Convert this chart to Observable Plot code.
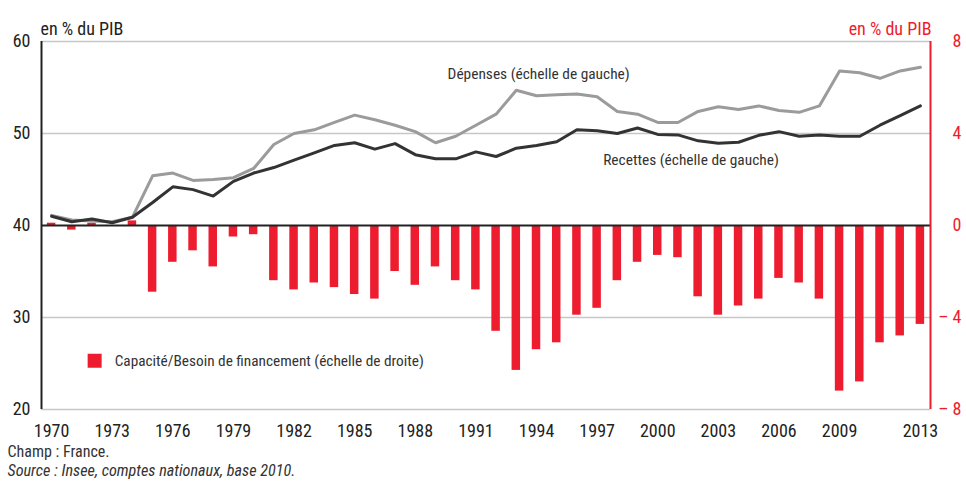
<!DOCTYPE html>
<html><head><meta charset="utf-8">
<script src="https://cdn.jsdelivr.net/npm/d3@7"></script>
<script src="https://cdn.jsdelivr.net/npm/@observablehq/plot@0.6"></script>
<style>body{margin:0;background:#fff}</style>
</head><body><div id="chart"></div>
<script>
const years = [1970,1971,1972,1973,1974,1975,1976,1977,1978,1979,
  1980,1981,1982,1983,1984,1985,1986,1987,1988,1989,
  1990,1991,1992,1993,1994,1995,1996,1997,1998,1999,
  2000,2001,2002,2003,2004,2005,2006,2007,2008,2009,
  2010,2011,2012,2013];
const depenses = [41.1,40.6,40.5,40.4,40.9,45.4,45.7,44.9,45.0,45.2,
  46.2,48.8,50.0,50.4,51.2,52.0,51.5,50.9,50.2,49.0,
  49.7,50.9,52.1,54.7,54.1,54.2,54.3,54.0,52.4,52.1,
  51.2,51.2,52.4,52.9,52.6,53.0,52.5,52.3,53.0,56.8,
  56.6,56.0,56.8,57.2];
const recettes = [41.0,40.4,40.7,40.3,40.9,42.5,44.2,43.9,43.2,44.8,
  45.7,46.3,47.1,47.9,48.7,49.0,48.3,48.9,47.7,47.25,
  47.25,48.0,47.5,48.4,48.7,49.1,50.4,50.3,50.0,50.6,
  49.9,49.85,49.2,48.95,49.05,49.8,50.2,49.7,49.85,49.7,
  49.7,50.9,51.95,53.0];
const capacite = [0.1,-0.2,0.1,0.0,0.2,-2.9,-1.6,-1.1,-1.8,-0.5,
  -0.4,-2.4,-2.8,-2.5,-2.7,-3.0,-3.2,-2.0,-2.6,-1.8,
  -2.4,-2.8,-4.6,-6.3,-5.4,-5.1,-3.9,-3.6,-2.4,-1.6,
  -1.3,-1.4,-3.1,-3.9,-3.5,-3.2,-2.3,-2.5,-3.2,-7.2,
  -6.8,-5.1,-4.8,-4.3];
const xTicks = [1970,1973,1976,1979,1982,1985,1988,1991,1994,1997,2000,2003,2006,2009,2013];
const leftTicks = [20,30,40,50,60];
const rightTicks = [-8,-4,0,4,8];
const unitLabel = "en % du PIB";
const depLabel = "Dépenses (échelle de gauche)";
const recLabel = "Recettes (échelle de gauche)";
const capLabel = "Capacité/Besoin de financement (échelle de droite)";
const champ = "Champ : France.";
const source = "Source : Insee, comptes nationaux, base 2010.";

const FONT = '"Liberation Sans Narrow", "Roboto Condensed", "DejaVu Sans Condensed", sans-serif';
const RED = "#ed1c2e";
const toLeft = v => 40 + v * 2.5;           // right scale (-8..8) -> left scale (20..60)
const fromLeft = d => (d - 40) / 2.5;
const fmtRight = v => v < 0 ? "– " + Math.abs(v) : String(v);

const data = years.map((year, i) => ({year, dep: depenses[i], rec: recettes[i], cap: capacite[i]}));

const chart = Plot.plot({
  width: 966, height: 482,
  marginTop: 41, marginBottom: 73, marginLeft: 41, marginRight: 36,
  style: {fontFamily: FONT, fontSize: "18px", color: "#222", background: "#fff"},
  x: {type: "linear", domain: [1969.5, 2013.5]},
  y: {domain: [20, 60]},
  marks: [
    Plot.ruleY(leftTicks.filter(t => t !== 40), {stroke: "#c6c6c6", strokeWidth: 1.3}),
    Plot.rectY(data, {x1: d => d.year - 0.21, x2: d => d.year + 0.21, y1: 40, y2: d => toLeft(d.cap), fill: RED}),
    Plot.ruleY([40], {stroke: "#222", strokeWidth: 2}),
    Plot.line(data, {x: "year", y: "dep", stroke: "#9b9b9b", strokeWidth: 3}),
    Plot.line(data, {x: "year", y: "rec", stroke: "#333", strokeWidth: 3}),
    Plot.ruleX([1969.5], {y1: 20, y2: 60, stroke: "#222", strokeWidth: 2}),
    Plot.ruleX([2013.5], {y1: 20, y2: 60, stroke: RED, strokeWidth: 2}),
    Plot.axisX({ticks: xTicks, tickFormat: d => String(d), tickSize: 0, tickPadding: 15, label: null, fill: "#222"}),
    Plot.axisY({anchor: "left", ticks: leftTicks, tickSize: 0, tickPadding: 11, label: null, fill: "#222"}),
    Plot.axisY({anchor: "right", ticks: rightTicks.map(toLeft), tickFormat: d => fmtRight(fromLeft(d)),
      tickSize: 0, tickPadding: 31, textAnchor: "end", label: null, fill: RED}),
    Plot.text([unitLabel], {frameAnchor: "top-left", dy: -19, dx: -1, textAnchor: "start", fontSize: 18, fill: "#222"}),
    Plot.text([unitLabel], {frameAnchor: "top-right", dy: -19, dx: 1, textAnchor: "end", fontSize: 18, fill: RED}),
    Plot.text([depLabel], {x: 1989.6, y: 56.5, textAnchor: "start", fontSize: 15.4, fill: "#333"}),
    Plot.text([recLabel], {x: 1997.3, y: 47.07, textAnchor: "start", fontSize: 15.4, fill: "#333"}),
    Plot.dot([capLabel], {x: 1972.13, y: 25.3, symbol: "square", r: 7.9, fill: RED}),
    Plot.text([capLabel], {x: 1973.12, y: 25.3, textAnchor: "start", fontSize: 15.3, fill: "#333"}),
    Plot.text([champ], {frameAnchor: "bottom-left", dx: -34, dy: 47, textAnchor: "start", fontSize: 16, fill: "#333"}),
    Plot.text([source], {frameAnchor: "bottom-left", dx: -34, dy: 66, textAnchor: "start", fontSize: 16.2, fontStyle: "italic", fill: "#333"})
  ]
});
document.getElementById("chart").appendChild(chart);
</script>
</body></html>
